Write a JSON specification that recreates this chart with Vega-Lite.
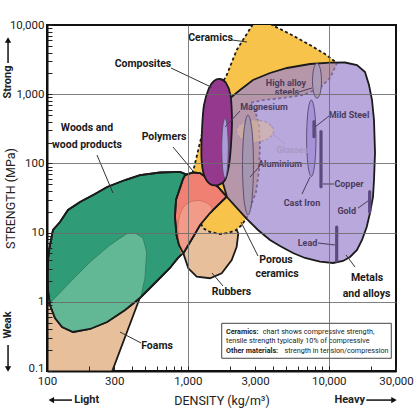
{
"$schema": "https://vega.github.io/schema/vega-lite/v6.json",
"width": 349, "height": 346,
"autosize": "none",
"padding": {"left": 47, "top": 25, "right": 22, "bottom": 45},
"background": "white",
"config": {"view": {"stroke": "#111", "strokeWidth": 2}, "font": "Roboto"},
"datasets": {
"foams": [{"i":1,"density":95,"strength":0.09},{"i":2,"density":285,"strength":0.09},{"i":3,"density":450,"strength":1.06},{"i":4,"density":496,"strength":2.21},{"i":5,"density":510,"strength":5.25},{"i":6,"density":480,"strength":8.36},{"i":7,"density":428,"strength":9.7},{"i":8,"density":370,"strength":9.7},{"i":9,"density":280,"strength":6.62},{"i":10,"density":202,"strength":3.76},{"i":11,"density":146,"strength":1.93},{"i":12,"density":105,"strength":0.96},{"i":13,"density":95,"strength":0.88}],
"woods": [{"i":1,"density":102,"strength":4.3},{"i":2,"density":105,"strength":6.62},{"i":3,"density":110.3,"strength":10.9},{"i":4,"density":123.7,"strength":14.2},{"i":5,"density":140.9,"strength":21.2},{"i":6,"density":171.5,"strength":27.7},{"i":7,"density":219,"strength":36.1},{"i":8,"density":267,"strength":45.6},{"i":9,"density":358,"strength":57.5},{"i":10,"density":457,"strength":67.9},{"i":11,"density":634,"strength":73.9},{"i":12,"density":879,"strength":75.2},{"i":13,"density":1002,"strength":67.9},{"i":14,"density":970,"strength":41.3},{"i":15,"density":938,"strength":15.2},{"i":16,"density":923,"strength":5.07},{"i":17,"density":851,"strength":4.3},{"i":18,"density":746,"strength":3.08},{"i":19,"density":584,"strength":1.87},{"i":20,"density":457,"strength":1.135},{"i":21,"density":358,"strength":0.762},{"i":22,"density":267,"strength":0.511},{"i":23,"density":202,"strength":0.405},{"i":24,"density":153,"strength":0.366},{"i":25,"density":128,"strength":0.432},{"i":26,"density":114,"strength":0.583},{"i":27,"density":105,"strength":0.899},{"i":28,"density":101.6,"strength":1.48},{"i":29,"density":100.8,"strength":2.44}],
"woodsfoam": [{"i":1,"density":105,"strength":0.961},{"i":2,"density":146,"strength":1.93},{"i":3,"density":202,"strength":3.76},{"i":4,"density":280,"strength":6.62},{"i":5,"density":370,"strength":9.7},{"i":6,"density":428,"strength":9.7},{"i":7,"density":480,"strength":8.36},{"i":8,"density":510,"strength":5.25},{"i":9,"density":496,"strength":2.21},{"i":10,"density":465,"strength":1.21},{"i":11,"density":358,"strength":0.762},{"i":12,"density":267,"strength":0.511},{"i":13,"density":202,"strength":0.405},{"i":14,"density":153,"strength":0.366},{"i":15,"density":128,"strength":0.432},{"i":16,"density":114,"strength":0.583}],
"rubbers": [{"i":1,"density":928,"strength":5.02},{"i":2,"density":986,"strength":6.19},{"i":3,"density":1087,"strength":8.63},{"i":4,"density":1219,"strength":12.9},{"i":5,"density":1435,"strength":19.2},{"i":6,"density":1834,"strength":14.7},{"i":7,"density":2196,"strength":11.3},{"i":8,"density":2279,"strength":9.77},{"i":9,"density":2220,"strength":6.25},{"i":10,"density":2046,"strength":4.02},{"i":11,"density":1738,"strength":2.58},{"i":12,"density":1435,"strength":2.19},{"i":13,"density":1155,"strength":2.31},{"i":14,"density":1007,"strength":3.05}],
"ceramics": [{"i":1,"density":3023,"strength":11810},{"i":2,"density":3631,"strength":11810},{"i":3,"density":3954,"strength":10000},{"i":4,"density":5305,"strength":7413},{"i":5,"density":7357,"strength":5140},{"i":6,"density":9402,"strength":3811},{"i":7,"density":11440,"strength":2825},{"i":8,"density":10200,"strength":1714},{"i":9,"density":8665,"strength":1229},{"i":10,"density":6561,"strength":973},{"i":11,"density":4732,"strength":881},{"i":12,"density":3413,"strength":824},{"i":13,"density":2760,"strength":746},{"i":14,"density":2994,"strength":591},{"i":15,"density":3197,"strength":359},{"i":16,"density":3249,"strength":184.5},{"i":17,"density":3197,"strength":80.3},{"i":18,"density":3044,"strength":38.6},{"i":19,"density":2628,"strength":16.8},{"i":20,"density":2421,"strength":12.9},{"i":21,"density":2196,"strength":10.9},{"i":22,"density":1926,"strength":9.87},{"i":23,"density":1690,"strength":9.55},{"i":24,"density":1435,"strength":10.2},{"i":25,"density":1280,"strength":11.6},{"i":26,"density":1123,"strength":21.2},{"i":27,"density":1035,"strength":41.3},{"i":28,"density":1087,"strength":75.2},{"i":29,"density":1161,"strength":132},{"i":30,"density":1280,"strength":304},{"i":31,"density":1483,"strength":824},{"i":32,"density":1690,"strength":1271},{"i":33,"density":1886,"strength":1895},{"i":34,"density":2220,"strength":4353}],
"polymers": [{"i":1,"density":954,"strength":67.9},{"i":2,"density":1087,"strength":73.9},{"i":3,"density":1219,"strength":72.6},{"i":4,"density":1435,"strength":57.5},{"i":5,"density":1636,"strength":45.6},{"i":6,"density":1886,"strength":33.0},{"i":7,"density":1636,"strength":25.0},{"i":8,"density":1435,"strength":19.2},{"i":9,"density":1219,"strength":12.9},{"i":10,"density":1087,"strength":8.63},{"i":11,"density":986,"strength":6.19},{"i":12,"density":928,"strength":5.02},{"i":13,"density":865,"strength":6.62},{"i":14,"density":830,"strength":9.23},{"i":15,"density":810,"strength":16.8},{"i":16,"density":823,"strength":29.6},{"i":17,"density":879,"strength":44.1},{"i":18,"density":923,"strength":59.5}],
"polylight": [{"i":1,"density":879,"strength":5.61},{"i":2,"density":851,"strength":12.9},{"i":3,"density":923,"strength":22.6},{"i":4,"density":1087,"strength":28.6},{"i":5,"density":1322,"strength":27.7},{"i":6,"density":1483,"strength":21.2},{"i":7,"density":1219,"strength":12.9},{"i":8,"density":1087,"strength":8.63},{"i":9,"density":986,"strength":6.19},{"i":10,"density":928,"strength":5.02}],
"metals": [{"i":1,"density":1990,"strength":873},{"i":2,"density":2344,"strength":1150},{"i":3,"density":2898,"strength":1604},{"i":4,"density":3827,"strength":2025},{"i":5,"density":5051,"strength":2391},{"i":6,"density":7357,"strength":2732},{"i":7,"density":10200,"strength":2852},{"i":8,"density":13040,"strength":2871},{"i":9,"density":15860,"strength":2642},{"i":10,"density":18080,"strength":2093},{"i":11,"density":19300,"strength":1358},{"i":12,"density":20270,"strength":824},{"i":13,"density":20940,"strength":424},{"i":14,"density":21290,"strength":141.3},{"i":15,"density":20940,"strength":57.5},{"i":16,"density":20600,"strength":32.7},{"i":17,"density":19610,"strength":19.2},{"i":18,"density":18590,"strength":12.05},{"i":19,"density":17220,"strength":7.82},{"i":20,"density":15860,"strength":5.61},{"i":21,"density":14150,"strength":4.44},{"i":22,"density":12620,"strength":3.89},{"i":23,"density":10720,"strength":3.64},{"i":24,"density":8665,"strength":3.8},{"i":25,"density":6780,"strength":4.3},{"i":26,"density":5572,"strength":5.07},{"i":27,"density":4507,"strength":6.4},{"i":28,"density":3827,"strength":7.82},{"i":29,"density":3145,"strength":10.9},{"i":30,"density":2628,"strength":15.7},{"i":31,"density":2232,"strength":22.6},{"i":32,"density":1895,"strength":32.7},{"i":33,"density":1747,"strength":57.5},{"i":34,"density":1690,"strength":156},{"i":35,"density":1718,"strength":424},{"i":36,"density":1834,"strength":698}],
"glasses": [{"i":1,"density":4052,"strength":293.9},{"i":2,"density":3890,"strength":352.9},{"i":3,"density":3486,"strength":403.3},{"i":4,"density":2994,"strength":424},{"i":5,"density":2573,"strength":403.3},{"i":6,"density":2306,"strength":352.9},{"i":7,"density":2213,"strength":293.9},{"i":8,"density":2306,"strength":244.7},{"i":9,"density":2573,"strength":214.3},{"i":10,"density":2994,"strength":203.8},{"i":11,"density":3486,"strength":214.3},{"i":12,"density":3890,"strength":244.7}],
"aluminium": [{"i":1,"density":2922,"strength":94.8},{"i":2,"density":2847,"strength":307.8},{"i":3,"density":2671,"strength":500.4},{"i":4,"density":2506,"strength":307.8},{"i":5,"density":2441,"strength":94.8},{"i":6,"density":2506,"strength":29.2},{"i":7,"density":2671,"strength":17.96},{"i":8,"density":2847,"strength":29.2}],
"magnesium": [{"i":1,"density":1936,"strength":165.3},{"i":2,"density":1905,"strength":334.6},{"i":3,"density":1834,"strength":448.4},{"i":4,"density":1767,"strength":334.6},{"i":5,"density":1738,"strength":165.3},{"i":6,"density":1767,"strength":81.6},{"i":7,"density":1834,"strength":60.9},{"i":8,"density":1905,"strength":81.6}],
"highalloy": [{"i":1,"density":8878,"strength":1562},{"i":2,"density":8692,"strength":2359},{"i":3,"density":8248,"strength":2796},{"i":4,"density":7827,"strength":2359},{"i":5,"density":7663,"strength":1562},{"i":6,"density":7827,"strength":1034},{"i":7,"density":8248,"strength":873},{"i":8,"density":8692,"strength":1034}],
"mildsteel": [{"i":1,"density":8115,"strength":230.6},{"i":2,"density":7931,"strength":568},{"i":3,"density":7515,"strength":824},{"i":4,"density":7120,"strength":568},{"i":5,"density":6960,"strength":230.6},{"i":6,"density":7120,"strength":93.6},{"i":7,"density":7515,"strength":64.5},{"i":8,"density":7931,"strength":93.6}],
"composites": [{"i":1,"density":1690,"strength":1658},{"i":2,"density":1865,"strength":1451},{"i":3,"density":2006,"strength":973},{"i":4,"density":2056,"strength":424},{"i":5,"density":2023,"strength":184.5},{"i":6,"density":1958,"strength":94.8},{"i":7,"density":1834,"strength":57.5},{"i":8,"density":1636,"strength":48.7},{"i":9,"density":1435,"strength":50.4},{"i":10,"density":1301,"strength":67.9},{"i":11,"density":1249,"strength":119.7},{"i":12,"density":1259,"strength":304},{"i":13,"density":1301,"strength":698},{"i":14,"density":1412,"strength":1229},{"i":15,"density":1532,"strength":1552}],
"bars": [{"name":"Mild steel","density":7855,"strength":400.6,"strength2":243},{"name":"Copper","density":8807,"strength":287.1,"strength2":46.05},{"name":"Gold","density":19510,"strength":39,"strength2":19.85},{"name":"Lead","density":11380,"strength":12.05,"strength2":3.89}],
"leaders": [{"density":2056,"strength":6071,"density2":2628,"strength2":5680},{"density":759,"strength":2391,"density2":1483,"strength2":1250},{"density":226.4,"strength":132,"density2":294,"strength2":37.35},{"density":784,"strength":172.6,"density2":1087,"strength2":77.65},{"density":3145,"strength":4.59,"density2":2382,"strength2":14.23},{"density":1776,"strength":1.691,"density2":1483,"strength2":2.607},{"density":464.6,"strength":0.2539,"density2":329.8,"strength2":0.366},{"density":13250,"strength":4.746,"density2":15350,"strength2":3.184}],
"subleaders": [{"density":6145,"strength":1076,"density2":7600,"strength2":1229},{"density":2344,"strength":571.8,"density2":1834,"strength2":335.7},{"density":10040,"strength":484.2,"density2":7984,"strength2":335.7},{"density":3249,"strength":91.7,"density2":2760,"strength2":63.6},{"density":6454,"strength":36.1,"density2":7357,"strength2":63.6},{"density":9099,"strength":50.4,"density2":10890,"strength2":50.4},{"density":16120,"strength":22.6,"density2":18980,"strength2":28.61},{"density":8385,"strength":7.072,"density2":11070,"strength2":6.62}],
"glassleader": [{"density":4019,"strength":266,"density2":4888,"strength2":190.7}],
"labels": [{"label":"Ceramics","density":1447,"strength":6487},{"label":"Composites","density":480,"strength":2732},{"label":"Woods and","density":192.2,"strength":324.8},{"label":"wood products","density":192.2,"strength":184.5},{"label":"Polymers","density":676.9,"strength":240.7},{"label":"Porous","density":4222,"strength":4.02},{"label":"ceramics","density":4292,"strength":2.522},{"label":"Rubbers","density":2039,"strength":1.385},{"label":"Foams","density":603.8,"strength":0.2298},{"label":"Metals","density":18680,"strength":2.208},{"label":"and alloys","density":18520,"strength":1.318}],
"sublabels": [{"label":"High alloy","density":4968,"strength":1451},{"label":"steels","density":5051,"strength":1076},{"label":"Magnesium","density":3470,"strength":653},{"label":"Mild Steel","density":13920,"strength":500.4},{"label":"Aluminium","density":4507,"strength":98},{"label":"Cast Iron","density":6454,"strength":26.78},{"label":"Copper","density":13920,"strength":50.4},{"label":"Gold","density":13410,"strength":20.52},{"label":"Lead","density":7063,"strength":7.072}],
"glasslabel": [{"label":"Glasses","density":5525,"strength":158.8}],
"notebox": [{"density":1738,"density2":27780,"strength":0.489,"strength2":0.1527}],
"notebold": [{"label":"Ceramics:","density":1865,"strength":0.3624},{"label":"Other materials:","density":1865,"strength":0.1945}],
"notetext": [{"label":"chart shows compressive strength,","density":3400,"strength":0.3624},{"label":"tensile strength typically 10% of compressive","density":1865,"strength":0.2715},{"label":"strength in tension/compression","density":4850,"strength":0.1945}],
"arrowtext": [{"label":"Light","density":191.3,"strength":0.038},{"label":"Heavy","density":14080,"strength":0.038}],
"arrowtextv": [{"label":"Strong","density":52.9,"strength":1501},{"label":"Weak","density":52.9,"strength":0.4621}],
"arrowlines": [{"density":52.9,"strength":2824,"density2":52.9,"strength2":6071},{"density":52.9,"strength":0.2376,"density2":52.9,"strength2":0.107},{"density":150.5,"strength":0.038,"density2":107.3,"strength2":0.038},{"density":18460,"strength":0.038,"density2":29030,"strength2":0.038}],
"arrowheads": [{"head":"triangle-up","density":52.9,"strength":6071},{"head":"triangle-down","density":52.9,"strength":0.107},{"head":"triangle-left","density":107.3,"strength":0.038},{"head":"triangle-right","density":29030,"strength":0.038}]
},
"encoding": {
"x": {"field":"density","type":"quantitative","scale":{"type":"log","domain":[100,30000],"nice":false},"title":"DENSITY (kg/m³)",
 "axis":{"values":[100,200,300,400,500,600,700,800,900,1000,2000,3000,4000,5000,6000,7000,8000,9000,10000,20000,30000],
 "labelExpr":"indexof([100,300,1000,3000,10000,30000], datum.value) >= 0 ? format(datum.value, ',') : ''",
 "labelFlush":false,"labelOverlap":false,"labelFontSize":11.5,"labelColor":"#222","labelPadding":9,
 "tickSize":-5,"tickColor":"#222","tickWidth":1,
 "grid":true,"gridColor":"#6a6a6a","gridWidth":1,"gridOpacity":{"condition":{"test":"datum.value == 1000 || datum.value == 10000","value":0.85},"value":0},
 "domainColor":"#111","domainWidth":2,"zindex":1,
 "titleFontSize":12.5,"titleFontWeight":"normal","titleColor":"#222","titleX":174.5,"titleY":29,"titleAlign":"center","titleBaseline":"middle"}},
"y": {"field":"strength","type":"quantitative","scale":{"type":"log","domain":[0.1,10000],"nice":false},"title":"STRENGTH (MPa)",
 "axis":{"values":[0.1,0.2,0.3,0.4,0.5,0.6,0.7,0.8,0.9,1,2,3,4,5,6,7,8,9,10,20,30,40,50,60,70,80,90,100,200,300,400,500,600,700,800,900,1000,2000,3000,4000,5000,6000,7000,8000,9000,10000],
 "labelExpr":"indexof([0.1,1,10,100,1000,10000], datum.value) >= 0 ? format(datum.value, ',') : ''",
 "labelFlush":false,"labelOverlap":false,"labelFontSize":11.5,"labelColor":"#222","labelPadding":8,
 "labelOffset":{"condition":{"test":"datum.value == 0.1","value":-3},"value":0},
 "tickSize":-5,"tickColor":"#222","tickWidth":1,
 "grid":true,"gridColor":"#6a6a6a","gridWidth":1,"gridOpacity":{"condition":{"test":"datum.value == 1 || datum.value == 10 || datum.value == 100 || datum.value == 1000","value":0.85},"value":0},
 "domainColor":"#111","domainWidth":2,"zindex":1,
 "titleFontSize":12.5,"titleFontWeight":"normal","titleColor":"#222","titleAngle":270,"titleX":-37,"titleY":173,"titleAlign":"center","titleBaseline":"middle"}}
},
"layer": [
{"data":{"name":"foams"},"mark":{"type":"line","interpolate":"linear-closed","fill":"#e7c09b","stroke":"#1b1b1b","strokeWidth":1.8,"clip":true},"encoding":{"order":{"field":"i","type":"quantitative"}}},
{"data":{"name":"woods"},"mark":{"type":"line","interpolate":"linear-closed","fill":"#2f9c77","stroke":"#1b1b1b","strokeWidth":1.8,"clip":true},"encoding":{"order":{"field":"i","type":"quantitative"}}},
{"data":{"name":"woodsfoam"},"mark":{"type":"line","interpolate":"linear-closed","fill":"#62b795","stroke":"#2c7a5e","strokeWidth":0.8,"clip":true},"encoding":{"order":{"field":"i","type":"quantitative"}}},
{"data":{"name":"woods"},"mark":{"type":"line","interpolate":"linear-closed","stroke":"#1b1b1b","strokeWidth":1.8,"clip":true},"encoding":{"order":{"field":"i","type":"quantitative"}}},
{"data":{"name":"rubbers"},"mark":{"type":"line","interpolate":"linear-closed","fill":"#e7c09b","stroke":"#1b1b1b","strokeWidth":1.8,"clip":true},"encoding":{"order":{"field":"i","type":"quantitative"}}},
{"data":{"name":"ceramics"},"mark":{"type":"line","interpolate":"linear-closed","fill":"#f8c34b","stroke":"#1b1b1b","strokeWidth":1.8,"strokeDash":[3,2.5],"clip":true},"encoding":{"order":{"field":"i","type":"quantitative"}}},
{"data":{"name":"polymers"},"mark":{"type":"line","interpolate":"linear-closed","fill":"#f08172","stroke":"#1b1b1b","strokeWidth":1.8,"clip":true},"encoding":{"order":{"field":"i","type":"quantitative"}}},
{"data":{"name":"polylight"},"mark":{"type":"line","interpolate":"cardinal-closed","fill":"#f29b88","stroke":"#d36a5b","strokeWidth":0.8,"clip":true},"encoding":{"order":{"field":"i","type":"quantitative"}}},
{"data":{"name":"polymers"},"mark":{"type":"line","interpolate":"linear-closed","stroke":"#1b1b1b","strokeWidth":1.8,"clip":true},"encoding":{"order":{"field":"i","type":"quantitative"}}},
{"data":{"name":"metals"},"mark":{"type":"line","interpolate":"linear-closed","fill":"#9d86cf","fillOpacity":0.72,"stroke":"#1b1b1b","strokeWidth":1.8,"clip":true},"encoding":{"order":{"field":"i","type":"quantitative"}}},
{"data":{"name":"glasses"},"mark":{"type":"line","interpolate":"cardinal-closed","fill":"#d8b79c","fillOpacity":0.6,"stroke":"#a892b0","strokeWidth":1.2,"strokeDash":[3,2],"clip":true},"encoding":{"order":{"field":"i","type":"quantitative"}}},
{"data":{"name":"aluminium"},"mark":{"type":"line","interpolate":"cardinal-closed","fill":"#a697b0","stroke":"#5e4c74","strokeWidth":1,"clip":true},"encoding":{"order":{"field":"i","type":"quantitative"}}},
{"data":{"name":"highalloy"},"mark":{"type":"line","interpolate":"cardinal-closed","fill":"#ad9cb6","stroke":"#5e4c74","strokeWidth":1,"clip":true},"encoding":{"order":{"field":"i","type":"quantitative"}}},
{"data":{"name":"mildsteel"},"mark":{"type":"line","interpolate":"cardinal-closed","fill":"#a493d8","stroke":"#5e4c74","strokeWidth":1,"clip":true},"encoding":{"order":{"field":"i","type":"quantitative"}}},
{"data":{"name":"composites"},"mark":{"type":"line","interpolate":"cardinal-closed","fill":"#94398e","stroke":"#1b1b1b","strokeWidth":1.8,"clip":true},"encoding":{"order":{"field":"i","type":"quantitative"}}},
{"data":{"name":"magnesium"},"mark":{"type":"line","interpolate":"cardinal-closed","fill":"#ab9cd6","stroke":"#5e4c74","strokeWidth":1,"clip":true},"encoding":{"order":{"field":"i","type":"quantitative"}}},
{"data":{"name":"bars"},"mark":{"type":"rule","stroke":"#5b4a80","strokeWidth":3.2,"strokeCap":"round"},"encoding":{"y2":{"field":"strength2"}}},
{"data":{"name":"leaders"},"mark":{"type":"rule","stroke":"#333","strokeWidth":1},"encoding":{"x2":{"field":"density2"},"y2":{"field":"strength2"}}},
{"data":{"name":"subleaders"},"mark":{"type":"rule","stroke":"#4b3b5e","strokeWidth":1},"encoding":{"x2":{"field":"density2"},"y2":{"field":"strength2"}}},
{"data":{"name":"glassleader"},"mark":{"type":"rule","stroke":"#a99ac4","strokeWidth":1},"encoding":{"x2":{"field":"density2"},"y2":{"field":"strength2"}}},
{"data":{"name":"labels"},"mark":{"type":"text","fontSize":10.5,"fontWeight":"bold","fill":"#1a1a1a","align":"center","baseline":"middle"},"encoding":{"text":{"field":"label","type":"nominal"}}},
{"data":{"name":"sublabels"},"mark":{"type":"text","fontSize":9,"fontWeight":"bold","fill":"#4b3b5e","align":"center","baseline":"middle"},"encoding":{"text":{"field":"label","type":"nominal"}}},
{"data":{"name":"glasslabel"},"mark":{"type":"text","fontSize":9,"fontWeight":"bold","fill":"#a99ac4","align":"center","baseline":"middle"},"encoding":{"text":{"field":"label","type":"nominal"}}},
{"data":{"name":"notebox"},"mark":{"type":"rect","fill":"white","stroke":"#444","strokeWidth":1},"encoding":{"x2":{"field":"density2"},"y2":{"field":"strength2"}}},
{"data":{"name":"notebold"},"mark":{"type":"text","fontSize":7.2,"fontWeight":"bold","fill":"#222","align":"left","baseline":"middle"},"encoding":{"text":{"field":"label","type":"nominal"}}},
{"data":{"name":"notetext"},"mark":{"type":"text","fontSize":7.2,"fill":"#222","align":"left","baseline":"middle"},"encoding":{"text":{"field":"label","type":"nominal"}}},
{"data":{"name":"arrowlines"},"mark":{"type":"rule","stroke":"#111","strokeWidth":1.5},"encoding":{"x2":{"field":"density2"},"y2":{"field":"strength2"}}},
{"data":{"name":"arrowheads"},"mark":{"type":"point","filled":true,"size":40,"color":"#111","opacity":1},"encoding":{"shape":{"field":"head","type":"nominal","scale":null}}},
{"data":{"name":"arrowtext"},"mark":{"type":"text","fontSize":11,"fontWeight":"bold","fill":"#222","align":"center","baseline":"middle"},"encoding":{"text":{"field":"label","type":"nominal"}}},
{"data":{"name":"arrowtextv"},"mark":{"type":"text","fontSize":11,"fontWeight":"bold","fill":"#222","align":"center","baseline":"middle","angle":270},"encoding":{"text":{"field":"label","type":"nominal"}}}
]
}
